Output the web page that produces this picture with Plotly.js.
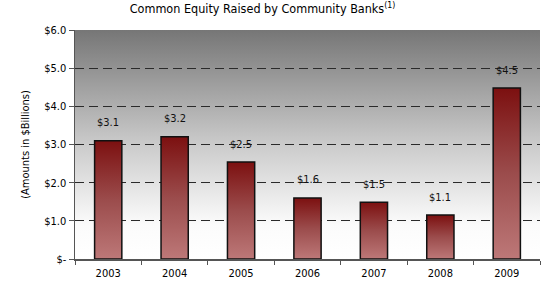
<!DOCTYPE html>
<html>
<head>
<meta charset="utf-8">
<script src="https://cdn.plot.ly/plotly-3.0.1.min.js"></script>
<style>
html,body{margin:0;padding:0;background:#fff;}
#chart{width:547px;height:287px;}
</style>
</head>
<body>
<div id="chart"></div>
<script>
const years = ["2003", "2004", "2005", "2006", "2007", "2008", "2009"];
const equityRaised = [3.1, 3.2, 2.54, 1.6, 1.49, 1.15, 4.48];
const valueLabels = ["$3.1", "$3.2", "$2.5", "$1.6", "$1.5", "$1.1", "$4.5"];
const yTickVals = [0, 1, 2, 3, 4, 5, 6];
const yTickText = ["$-", "$1.0", "$2.0", "$3.0", "$4.0", "$5.0", "$6.0"];

const FONT = "'Liberation Sans Narrow', 'DejaVu Sans Condensed', 'Arial Narrow', sans-serif";

const trace = {
  type: "bar",
  x: years,
  y: equityRaised,
  width: 0.41,
  marker: {color: "#9c4848", line: {color: "#111", width: 1.5}},
  hoverinfo: "none"
};

const annotations = years.map((yr, i) => ({
  x: i, y: equityRaised[i], text: valueLabels[i],
  xref: "x", yref: "y",
  showarrow: false, yshift: 18,
  font: {family: FONT, size: 11, color: "#111"}
}));

const layout = {
  width: 547, height: 287,
  margin: {l: 75, r: 7, t: 30, b: 28},
  paper_bgcolor: "#ffffff",
  plot_bgcolor: "#bbbbbb",
  showlegend: false,
  font: {family: FONT, size: 11, color: "#000"},
  title: {
    text: "Common Equity Raised by Community Banks<sup>(1)</sup>",
    font: {family: FONT, size: 12.5, color: "#000"},
    x: 0.48, xanchor: "center", y: 0.985, yanchor: "top"
  },
  xaxis: {
    type: "category",
    range: [-0.5, 6.5], autorange: false,
    showline: true, linecolor: "#555", linewidth: 1.5,
    ticks: "outside", tickson: "boundaries", ticklen: 4, tickcolor: "#555",
    ticklabelstandoff: 3,
    tickfont: {family: FONT, size: 11, color: "#000"},
    showgrid: false, zeroline: false
  },
  yaxis: {
    range: [0, 6], autorange: false,
    tickvals: yTickVals, ticktext: yTickText,
    showline: true, linecolor: "#555", linewidth: 1.5,
    ticks: "outside", ticklen: 5, tickcolor: "#555",
    tickfont: {family: FONT, size: 11, color: "#000"},
    showgrid: true, gridcolor: "#2a2a2a", gridwidth: 1, griddash: "9px,5px",
    zeroline: false,
    title: {text: "(Amounts in $Billions)", font: {family: FONT, size: 11, color: "#000"}, standoff: 12}
  },
  annotations: annotations
};

const gd = document.getElementById("chart");
Plotly.newPlot(gd, [trace], layout, {staticPlot: true, displayModeBar: false}).then(() => {
  const svgNS = "http://www.w3.org/2000/svg";
  const svg = gd.querySelector("svg.main-svg");
  let defs = svg.querySelector("defs");
  if (!defs) { defs = document.createElementNS(svgNS, "defs"); svg.insertBefore(defs, svg.firstChild); }
  function grad(id, stops) {
    const g = document.createElementNS(svgNS, "linearGradient");
    g.setAttribute("id", id);
    g.setAttribute("x1", "0"); g.setAttribute("y1", "0");
    g.setAttribute("x2", "0"); g.setAttribute("y2", "1");
    stops.forEach(([o, c]) => {
      const s = document.createElementNS(svgNS, "stop");
      s.setAttribute("offset", o); s.setAttribute("stop-color", c);
      g.appendChild(s);
    });
    defs.appendChild(g);
  }
  grad("bgGrad", [["0", "#767676"], ["0.5", "#cbcbcb"], ["0.85", "#fbfbfb"], ["1", "#ffffff"]]);
  grad("barGrad", [["0", "#7c1010"], ["0.5", "#9b4c4c"], ["1", "#bd7878"]]);
  const bg = gd.querySelector(".bglayer .bg");
  if (bg) bg.style.fill = "url(#bgGrad)";
  gd.querySelectorAll(".barlayer .point path").forEach(p => { p.style.fill = "url(#barGrad)"; });
});
</script>
</body>
</html>
